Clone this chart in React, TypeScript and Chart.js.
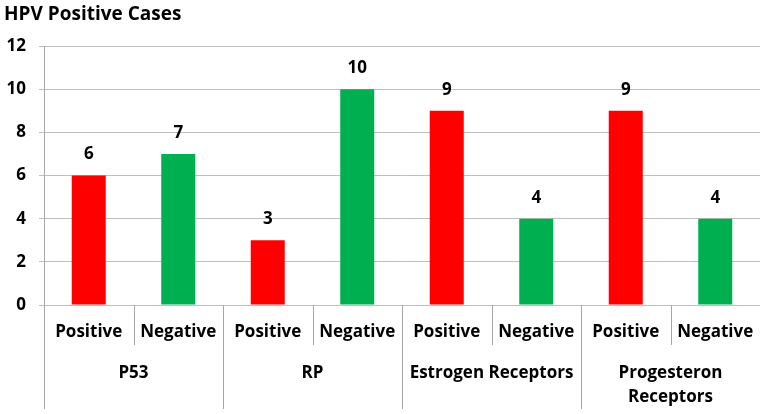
import React, { useEffect, useRef } from "react";
import { Chart, registerables } from "chart.js";

Chart.register(...registerables);

const title = "HPV Positive Cases";
const subLabels = ["Positive", "Negative", "Positive", "Negative", "Positive", "Negative", "Positive", "Negative"];
const groupLabels: string[][] = [["P53"], ["RP"], ["Estrogen Receptors"], ["Progesteron", "Receptors"]];
const values = [6, 7, 3, 10, 9, 4, 9, 4];
const barColors = ["#ff0000", "#00b050", "#ff0000", "#00b050", "#ff0000", "#00b050", "#ff0000", "#00b050"];
const yMax = 12;
const yStep = 2;

const FONT = "'Open Sans', Lato, sans-serif";

export default function App() {
  const ref = useRef<HTMLCanvasElement | null>(null);
  useEffect(() => {
    document.body.style.margin = "0";
    const canvas = ref.current!;
    const labelsPlugin = {
      id: "customLabels",
      afterDraw(chart: any) {
        const ctx = chart.ctx as CanvasRenderingContext2D;
        const x = chart.scales.x;
        const area = chart.chartArea;
        ctx.save();
        // title
        ctx.fillStyle = "#000";
        ctx.font = `bold 19px ${FONT}`;
        ctx.textAlign = "left";
        ctx.textBaseline = "alphabetic";
        ctx.fillText(title, 4, 20);
        // value labels
        const meta = chart.getDatasetMeta(0);
        ctx.font = `bold 17px ${FONT}`;
        ctx.textAlign = "center";
        ctx.textBaseline = "middle";
        meta.data.forEach((bar: any, i: number) => {
          ctx.fillText(String(values[i]), bar.x, bar.y - 21);
        });
        // separators
        const n = subLabels.length;
        const half = (x.getPixelForValue(1) - x.getPixelForValue(0)) / 2;
        ctx.strokeStyle = "#a6a6a6";
        ctx.lineWidth = 1;
        for (let i = 0; i <= n; i++) {
          const px = Math.round(i < n ? x.getPixelForValue(i) - half : x.getPixelForValue(n - 1) + half) + 0.5;
          const isGroup = i % 2 === 0;
          ctx.beginPath();
          ctx.moveTo(px, area.bottom);
          ctx.lineTo(px, isGroup ? area.bottom + 104 : area.bottom + 40);
          ctx.stroke();
        }
        // sub labels
        ctx.font = `bold 17px ${FONT}`;
        ctx.fillStyle = "#000";
        subLabels.forEach((s, i) => {
          ctx.fillText(s, x.getPixelForValue(i), area.bottom + 27);
        });
        // group labels
        groupLabels.forEach((lines, g) => {
          const cx = (x.getPixelForValue(g * 2) + x.getPixelForValue(g * 2 + 1)) / 2;
          lines.forEach((ln, j) => {
            ctx.fillText(ln, cx, area.bottom + 68 + j * 24);
          });
        });
        ctx.restore();
      },
    };
    const chart = new Chart(canvas, {
      type: "bar",
      data: {
        labels: subLabels,
        datasets: [
          {
            data: values,
            backgroundColor: barColors,
            borderWidth: 0,
            categoryPercentage: 1,
            barPercentage: 0.38,
          },
        ],
      },
      options: {
        animation: false,
        responsive: false,
        maintainAspectRatio: false,
        layout: { padding: { top: 46, bottom: 109, right: 0, left: 0 } },
        plugins: { legend: { display: false }, tooltip: { enabled: false }, title: { display: false } },
        scales: {
          x: { display: false, offset: true },
          y: {
            min: 0,
            max: yMax,
            afterFit(scale: any) {
              scale.width = 44;
            },
            ticks: {
              stepSize: yStep,
              color: "#000",
              padding: 13,
              font: { family: FONT, size: 17, weight: "bold" },
            },
            grid: { color: "#bfbfbf", tickLength: 5, lineWidth: 1 },
            border: { color: "#a6a6a6" },
          },
        },
      },
      plugins: [labelsPlugin],
    });
    return () => chart.destroy();
  }, []);
  return (
    <div style={{ width: 760, height: 414 }}>
      <canvas ref={ref} width={760} height={414} style={{ display: "block" }} />
    </div>
  );
}
